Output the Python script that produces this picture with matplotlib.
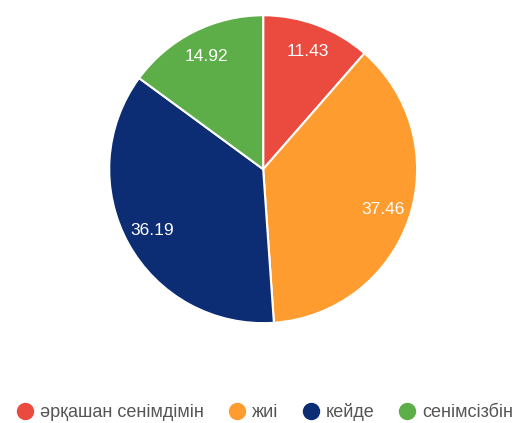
import matplotlib.pyplot as plt
from matplotlib.lines import Line2D

# 数据
labels = ['әрқашан сенімдімін', 'жиі', 'кейде', 'сенімсізбін']
values = [11.43, 37.46, 36.19, 14.92]
colors = ['#EB4A3F', '#FF9C30', '#0C2C74', '#5DAE48']

plt.rcParams['font.family'] = ['Liberation Sans', 'DejaVu Sans']

fig = plt.figure(figsize=(5.14, 4.23), dpi=100)
ax = fig.add_axes([0.2125, 0.236, 0.599, 0.728])

wedges, texts = ax.pie(values, colors=colors, startangle=90, counterclock=False,
                       labels=[f'{v:.2f}' for v in values], labeldistance=0.82,
                       wedgeprops=dict(edgecolor='white', linewidth=1.5))
for t in texts:
    t.set_color('white')
    t.set_fontsize(12.5)
    t.set_ha('center')
    t.set_va('center')
ax.set_xlim(-1, 1)
ax.set_ylim(-1, 1)
ax.set_aspect('equal')

# 图例
handles = [Line2D([], [], marker='o', linestyle='', markersize=11.5,
                  markerfacecolor=c, markeredgecolor=c) for c in colors]
fig.legend(handles, labels, loc='center', bbox_to_anchor=(0.515, 0.026), ncol=4,
           frameon=False, fontsize=13, handletextpad=0.35, columnspacing=1.3,
           handlelength=1.0, labelcolor='#555555', borderaxespad=0, borderpad=0)

plt.savefig('out.png', dpi=100)
